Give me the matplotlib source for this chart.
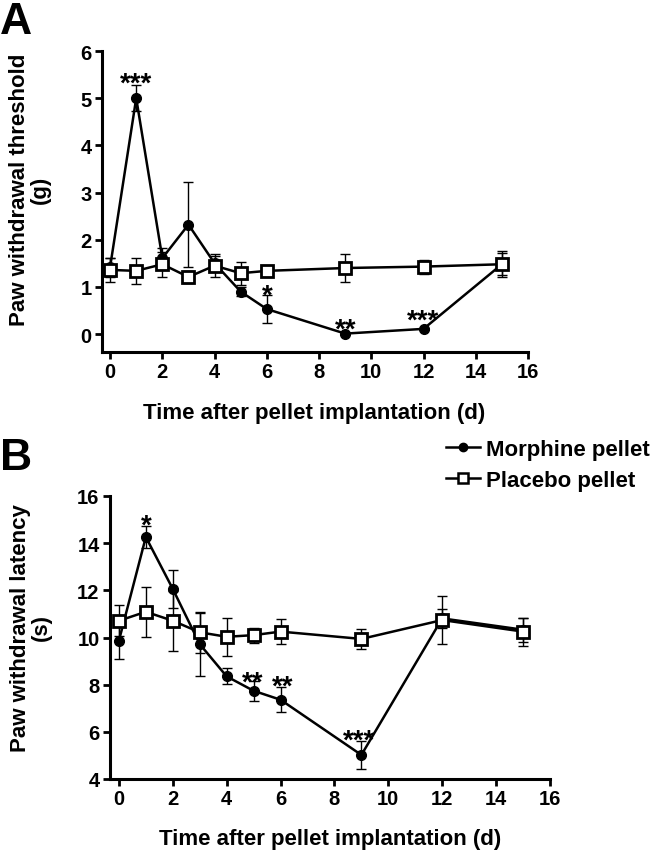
import numpy as np
import matplotlib
matplotlib.use("Agg")
import matplotlib.pyplot as plt
from matplotlib.lines import Line2D

plt.rcParams['font.family'] = ['Liberation Sans', 'DejaVu Sans']
plt.rcParams['font.weight'] = 'bold'

# days after implantation
days = [0, 1, 2, 3, 4, 5, 6, 9, 12, 15]

# panel A: paw withdrawal threshold (g)
thr_morph = [1.42, 5.0, 1.61, 2.32, 1.50, 0.90, 0.53, 0.01, 0.11, 1.48]
thr_morph_err = [0.20, 0.28, 0.21, 0.90, 0.16, 0.10, 0.30, 0.02, 0.02, 0.28]
thr_plac = [1.36, 1.34, 1.48, 1.21, 1.45, 1.29, 1.34, 1.40, 1.43, 1.48]
thr_plac_err = [0.26, 0.27, 0.26, 0.12, 0.24, 0.24, 0.05, 0.30, 0.15, 0.23]

# panel B: paw withdrawal latency (s)
lat_morph = [9.86, 14.26, 12.06, 9.72, 8.35, 7.74, 7.36, 5.02, 10.81, 10.33]
lat_morph_err = [0.77, 0.45, 0.80, 1.34, 0.34, 0.42, 0.54, 0.58, 0.40, 0.50]
lat_plac = [10.71, 11.09, 10.71, 10.22, 10.03, 10.10, 10.25, 9.94, 10.74, 10.25]
lat_plac_err = [0.65, 1.05, 1.27, 0.87, 0.80, 0.32, 0.53, 0.43, 1.00, 0.59]

# significance marks (x, y of star, text)
stars_a = [(1, 5.5, '***'), (6, 1.0, '*'), (9, 0.28, '**'), (12, 0.47, '***')]
stars_b = [(1, 15.11, '*'), (4.98, 8.45, '**'), (6.06, 8.32, '**'), (8.9, 6.03, '***')]

W, H = 659, 853
fig = plt.figure(figsize=(W / 100, H / 100), dpi=100)


def px_axes(left, top, right, bottom):
    return fig.add_axes([left / W, 1 - bottom / H, (right - left) / W, (bottom - top) / H])


def draw(ax, ym, yme, yp, ype, stars):
    ax.errorbar(days, ym, yerr=yme, fmt='none', ecolor='black', elinewidth=1,
                capsize=3.5, capthick=1, zorder=2)
    ax.errorbar(days, yp, yerr=ype, fmt='none', ecolor='black', elinewidth=1,
                capsize=3.5, capthick=1, zorder=2)
    ax.plot(days, ym, '-o', color='black', lw=1.8, ms=7, zorder=3)
    ax.plot(days, yp, '-s', color='black', lw=1.8, ms=9, mfc='white', mec='black',
            mew=2, zorder=4)
    for x, y, s in stars:
        ax.annotate(s, (x, y), xytext=(0, -6.5), textcoords='offset points',
                    ha='center', va='center', fontsize=20, fontweight='bold')
    for side in ['top', 'right']:
        ax.spines[side].set_visible(False)
    for side in ['left', 'bottom']:
        ax.spines[side].set_linewidth(2.2)
    ax.tick_params(width=2, length=5, labelsize=14.5, pad=2.5)
    ax.set_xticks(np.arange(0, 17, 2))
    for lab in ax.get_xticklabels() + ax.get_yticklabels():
        lab.set_fontweight('bold')


# panel A
axA = px_axes(102, 52, 528, 353)
draw(axA, thr_morph, thr_morph_err, thr_plac, thr_plac_err, stars_a)
axA.set_xlim(-0.31, 16)
axA.set_ylim(-0.38, 6)
axA.set_yticks(range(0, 7))
fig.text(314 / W, 1 - 413 / H, 'Time after pellet implantation (d)', ha='center',
         va='center', fontsize=16, fontweight='bold')
fig.text(30 / W, 1 - 190 / H, 'Paw withdrawal threshold\n(g)', rotation=90,
         ha='center', va='center', multialignment='center', fontsize=16,
         fontweight='bold', linespacing=1.0)
fig.text(0.0, 1 - 2 / H, 'A', ha='left', va='top', fontsize=32, fontweight='bold')

# panel B
axB = px_axes(110, 497, 550, 780)
draw(axB, lat_morph, lat_morph_err, lat_plac, lat_plac_err, stars_b)
axB.set_xlim(-0.33, 16)
axB.set_ylim(4, 16)
axB.set_yticks(range(4, 17, 2))
fig.text(330 / W, 1 - 840 / H, 'Time after pellet implantation (d)', ha='center',
         va='center', fontsize=16, fontweight='bold')
fig.text(31 / W, 1 - 628 / H, 'Paw withdrawal latency\n(s)', rotation=90,
         ha='center', va='center', multialignment='center', fontsize=16,
         fontweight='bold', linespacing=1.0)
fig.text(0.0, 1 - 438 / H, 'B', ha='left', va='top', fontsize=32, fontweight='bold')

handles = [Line2D([], [], color='black', lw=1.8, marker='o', ms=6),
           Line2D([], [], color='black', lw=1.8, marker='s', ms=7.5, mfc='white', mew=1.8)]
fig.legend(handles, ['Morphine pellet', 'Placebo pellet'], loc='upper left',
           bbox_to_anchor=(446 / W, 1 - 440 / H), frameon=False,
           prop={'size': 16, 'weight': 'bold'}, handlelength=1.55,
           handletextpad=0.25, borderpad=0, borderaxespad=0, labelspacing=0.45)

fig.savefig('out.png', dpi=100)
